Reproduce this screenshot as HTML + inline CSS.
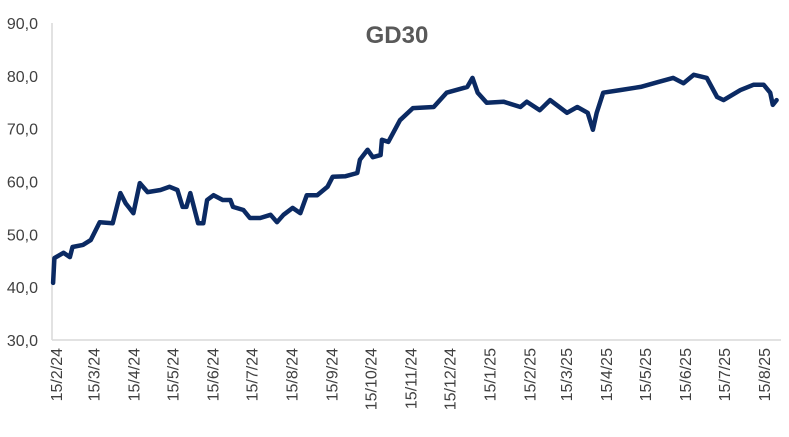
<!DOCTYPE html>
<html><head><meta charset="utf-8"><style>
body{margin:0;background:#fff;width:789px;height:432px;overflow:hidden}
svg text{font-family:"Liberation Sans",sans-serif}
</style></head><body>
<svg id="chart" width="789" height="432" viewBox="0 0 789 432" xmlns="http://www.w3.org/2000/svg">
<text x="397" y="43" text-anchor="middle" font-size="24" font-weight="bold" fill="#595959">GD30</text>
<g id="yaxis"></g>
<g id="xaxis"></g>
<g id="series"></g>
</svg>
<script>
const days=[-3,-2,5,10,12,20,26,33,43,49,53,59,64,70,80,87,93,97,100,103,109,113,116,121,128,134,136,144,149,157,165,170,175,182,188,193,201,209,213,223,232,234,240,244,250,251,256,265,275,291,301,317,321,325,332,345,358,363,373,381,394,402,410,414,417,422,435,451,464,476,484,492,502,510,515,528,538,546,551,553,556];
const values=[40.8,45.5,46.5,45.7,47.6,48.0,48.9,52.3,52.1,57.8,55.9,54.0,59.7,58.0,58.4,59.0,58.4,55.2,55.2,57.8,52.1,52.1,56.5,57.4,56.5,56.5,55.2,54.6,53.1,53.1,53.7,52.3,53.7,55.0,54.0,57.4,57.4,59.0,60.9,61.0,61.6,64.1,66.0,64.6,65.0,67.9,67.5,71.6,73.9,74.1,76.8,77.9,79.6,76.8,74.9,75.1,74.1,75.1,73.5,75.4,73.0,74.1,73.0,69.8,73.0,76.8,77.3,77.9,78.8,79.6,78.6,80.2,79.6,76.0,75.4,77.3,78.3,78.3,76.8,74.5,75.4];
const yTicks=[30,40,50,60,70,80,90];
const xTickLabels=["15/2/24","15/3/24","15/4/24","15/5/24","15/6/24","15/7/24","15/8/24","15/9/24","15/10/24","15/11/24","15/12/24","15/1/25","15/2/25","15/3/25","15/4/25","15/5/25","15/6/25","15/7/25","15/8/25"];
const xTickDays=[0,29,60,90,121,151,182,213,243,274,304,335,366,394,425,455,486,516,547];
const NS="http://www.w3.org/2000/svg";
const X0=52,X1=781,Y0=340,Y1=23;
const xs=d=>57+d*(765-57)/547;
const ys=v=>Y0-(v-30)*(Y0-Y1)/60;
const ya=document.getElementById('yaxis'),xa=document.getElementById('xaxis'),sg=document.getElementById('series');
function mk(t,a,p){const e=document.createElementNS(NS,t);for(const k in a)e.setAttribute(k,a[k]);p.appendChild(e);return e;}
mk('line',{x1:X0,y1:Y1,x2:X0,y2:Y0,stroke:'#d9d9d9','stroke-width':1.5},ya);
mk('line',{x1:X0,y1:Y0,x2:X1,y2:Y0,stroke:'#d9d9d9','stroke-width':1.5},xa);
yTicks.forEach(v=>{
  const t=mk('text',{x:38,y:ys(v)+6,'text-anchor':'end','font-size':16,fill:'#404040'},ya);
  
  
  t.textContent=v.toFixed(1).replace('.',',');
});
xTickLabels.forEach((l,i)=>{
  const x=xs(xTickDays[i])+5;
  const t=mk('text',{x:x,y:348,'text-anchor':'end','font-size':16,fill:'#404040',transform:`rotate(-90 ${x} 348)`},xa);
  
  
  t.textContent=l;
});
const pts=days.map((d,i)=>xs(d).toFixed(1)+','+ys(values[i]).toFixed(1)).join(' ');
const pl=mk('polyline',{points:pts,fill:'none',stroke:'#0b2a63','stroke-width':4.5,'stroke-linejoin':'round','stroke-linecap':'round'},sg);


</script>
</body></html>
